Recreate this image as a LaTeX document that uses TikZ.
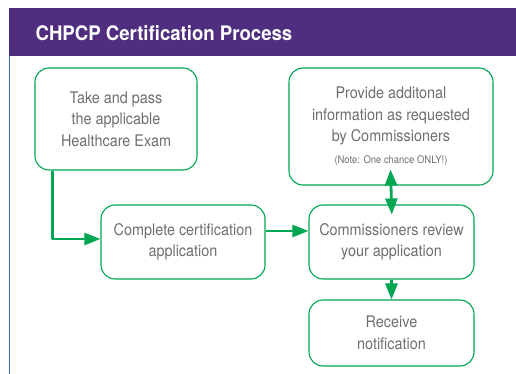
\documentclass[tikz,border=0pt]{standalone}
\usepackage{fontspec}
\setmainfont{TeX Gyre Heros}[FakeStretch=0.9]
\newfontfamily\titlefont{TeX Gyre Heros}[FakeStretch=0.93]
\usetikzlibrary{arrows.meta}
\definecolor{hdrpurple}{HTML}{4F2D7F}
\definecolor{boxgreen}{HTML}{00A651}
\definecolor{txtgray}{HTML}{6D6E71}
\definecolor{edgeblue}{HTML}{3E6FB0}
\begin{document}
\begin{tikzpicture}[x=1pt,y=-1pt, line join=round,
	box/.style={draw=boxgreen, line width=1.1pt, rounded corners=14pt, align=center,
		text=txtgray, font=\fontsize{16}{21.5}\selectfont, inner sep=0pt},
	arr/.style={draw=boxgreen, line width=2.8pt, -{Triangle[length=16pt,width=12pt]}}]
	\useasboundingbox (0,0) rectangle (516,374);
	% header bar and left edge
	\fill[hdrpurple] (9,8) rectangle (516,56);
	\draw[edgeblue, line width=0.9pt] (9.5,56) -- (9.5,374);
	\node[anchor=base west, text=white, font=\titlefont\bfseries\fontsize{20}{22}\selectfont] (title) at (32,40.5) {CHPCP Certification Process};
	% boxes
	\node[box, minimum width=162pt, minimum height=102pt] (exam) at (116,119) {Take and pass\\the applicable\\Healthcare Exam};
	\node[box, minimum width=164pt, minimum height=74pt] (apply) at (183,242) {Complete certification\\application};
	\node[box, minimum width=204pt, minimum height=117pt] (info) at (391,126.5) {Provide additonal\\information as requested\\by Commissioners\\{\fontsize{10.5}{12}\selectfont (Note: One chance ONLY!)}};
	\node[box, minimum width=165pt, minimum height=74pt] (review) at (391.5,242) {Commissioners review\\your application};
	\node[box, minimum width=165pt, minimum height=66pt] (notify) at (391.5,333) {Receive\\notification};
	% connectors
	\coordinate (bend) at ([xshift=18pt]exam.south west);
	\draw[arr] (bend) |- ([yshift=3pt]apply.west);
	\draw[arr] ([yshift=11pt]apply.east) -- ([yshift=11pt]review.west);
	\draw[arr, {Triangle[length=16pt,width=12pt]}-{Triangle[length=16pt,width=12pt]},
		shorten <=-16pt, shorten >=-10pt] (info.south) -- (review.north);
	\draw[arr] (review.south) -- (notify.north);
\end{tikzpicture}
\end{document}
